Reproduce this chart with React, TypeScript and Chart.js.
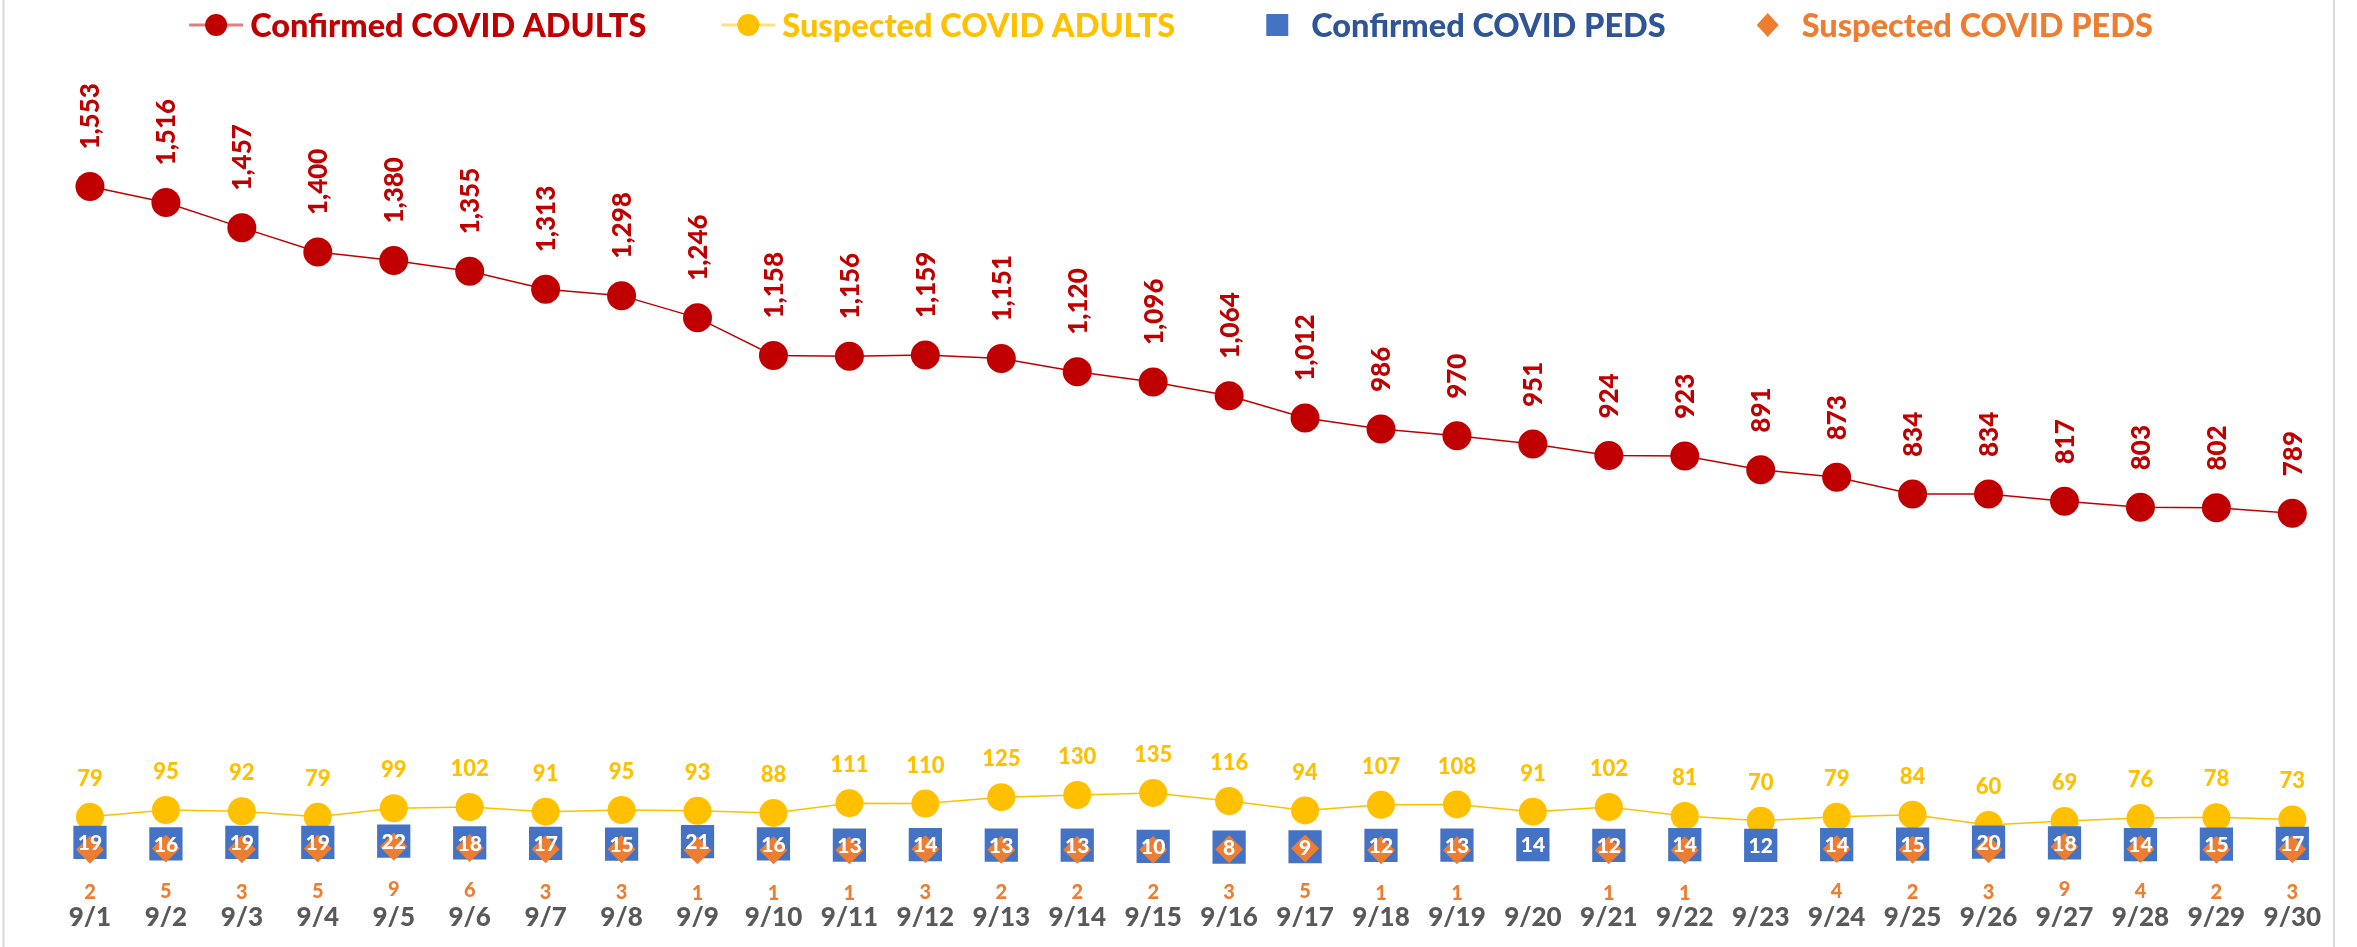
import React, { useEffect, useRef } from 'react';
import { Chart, registerables } from 'chart.js';

Chart.register(...registerables);

const categories = ['9/1','9/2','9/3','9/4','9/5','9/6','9/7','9/8','9/9','9/10','9/11','9/12','9/13','9/14','9/15','9/16','9/17','9/18','9/19','9/20','9/21','9/22','9/23','9/24','9/25','9/26','9/27','9/28','9/29','9/30'];

const confirmedAdults = [1553,1516,1457,1400,1380,1355,1313,1298,1246,1158,1156,1159,1151,1120,1096,1064,1012,986,970,951,924,923,891,873,834,834,817,803,802,789];
const suspectedAdults = [79,95,92,79,99,102,91,95,93,88,111,110,125,130,135,116,94,107,108,91,102,81,70,79,84,60,69,76,78,73];
const confirmedPeds = [19,16,19,19,22,18,17,15,21,16,13,14,13,13,10,8,9,12,13,14,12,14,12,14,15,20,18,14,15,17];
const suspectedPeds = [2,5,3,5,9,6,3,3,1,1,1,3,2,2,2,3,5,1,1,null,1,1,null,4,2,3,9,4,2,3];

const seriesNames = ['Confirmed COVID ADULTS','Suspected COVID ADULTS','Confirmed COVID PEDS','Suspected COVID PEDS'];

const FONT = 'Lato, "Liberation Sans", sans-serif';
const W = '900';

const RED = '#C00000';
const YELLOW = '#FFC000';
const BLUE = '#4472C4';
const ORANGE = '#ED7D31';

const fmt = (v: number) => v.toLocaleString('en-US');

const chromePlugin = {
  id: 'chrome',
  beforeDraw(chart: any) {
    const ctx = chart.ctx;
    ctx.save();
    ctx.fillStyle = '#FFFFFF';
    ctx.fillRect(0, 0, chart.width, chart.height);
    ctx.strokeStyle = '#D9D9D9';
    ctx.lineWidth = 2;
    ctx.beginPath();
    ctx.moveTo(3.5, 0);
    ctx.lineTo(3.5, chart.height);
    ctx.moveTo(2334, 0);
    ctx.lineTo(2334, chart.height);
    ctx.stroke();
    ctx.restore();
  },
};

const labelPlugin = {
  id: 'valueLabels',
  afterDatasetsDraw(chart: any) {
    const ctx = chart.ctx;
    ctx.save();
    chart.data.datasets.forEach((ds: any, di: number) => {
      const meta = chart.getDatasetMeta(di);
      meta.data.forEach((pt: any, i: number) => {
        const v = ds.data[i];
        if (v == null) return;
        const text = fmt(v);
        const x = pt.x;
        const y = pt.y;
        if (di === 0) {
          ctx.save();
          ctx.font = `${W} 26px ${FONT}`;
          ctx.fillStyle = RED;
          ctx.translate(x + 1, y - 37);
          ctx.rotate(-Math.PI / 2);
          ctx.textAlign = 'left';
          ctx.textBaseline = 'middle';
          ctx.fillText(text, 0, 0);
          ctx.restore();
        } else if (di === 1) {
          ctx.font = `${W} 22px ${FONT}`;
          ctx.fillStyle = YELLOW;
          ctx.textAlign = 'center';
          ctx.textBaseline = 'middle';
          ctx.fillText(text, x, y - 38);
        } else if (di === 2) {
          ctx.font = `${W} 21px ${FONT}`;
          ctx.fillStyle = '#FFFFFF';
          ctx.textAlign = 'center';
          ctx.textBaseline = 'middle';
          ctx.fillText(text, x, y + 1);
        } else if (di === 3) {
          ctx.font = `${W} 20px ${FONT}`;
          ctx.fillStyle = ORANGE;
          ctx.textAlign = 'center';
          ctx.textBaseline = 'middle';
          ctx.fillText(text, x, y + 43);
        }
      });
    });
    ctx.restore();
  },
  afterDraw(chart: any) {
    const ctx = chart.ctx;
    const xs = chart.scales.x;
    const area = chart.chartArea;
    ctx.save();
    // category labels
    ctx.font = `${W} 26px ${FONT}`;
    ctx.fillStyle = '#595959';
    ctx.textAlign = 'center';
    ctx.textBaseline = 'middle';
    categories.forEach((c, i) => {
      ctx.fillText(c, xs.getPixelForValue(i), area.bottom + 67.5);
    });

    // legend
    const textColors = [RED, YELLOW, '#2F5597', ORANGE];
    const markColors = [RED, YELLOW, BLUE, ORANGE];
    ctx.font = `${W} 32.5px ${FONT}`;
    const symW = 54;
    const gap = 7;
    const itemGap = 75;
    const widths = seriesNames.map((s) => ctx.measureText(s).width);
    const total = widths.reduce((a, w) => a + symW + gap + w, 0) + itemGap * (seriesNames.length - 1);
    let x = 1171 - total / 2;
    const ly = 25;
    seriesNames.forEach((name, i) => {
      const cx = x + symW / 2;
      if (i < 2) {
        ctx.strokeStyle = i === 0 ? 'rgba(192,0,0,0.5)' : 'rgba(255,192,0,0.5)';
        ctx.lineWidth = 3;
        ctx.beginPath();
        ctx.moveTo(x, ly);
        ctx.lineTo(x + symW, ly);
        ctx.stroke();
        ctx.fillStyle = markColors[i];
        ctx.beginPath();
        ctx.arc(cx, ly, 11, 0, Math.PI * 2);
        ctx.fill();
      } else if (i === 2) {
        ctx.fillStyle = markColors[i];
        ctx.fillRect(cx - 11, ly - 11, 22, 22);
      } else {
        ctx.fillStyle = markColors[i];
        ctx.beginPath();
        ctx.moveTo(cx, ly - 12);
        ctx.lineTo(cx + 11, ly);
        ctx.lineTo(cx, ly + 12);
        ctx.lineTo(cx - 11, ly);
        ctx.closePath();
        ctx.fill();
      }
      ctx.fillStyle = textColors[i];
      ctx.textAlign = 'left';
      ctx.textBaseline = 'middle';
      ctx.fillText(name, x + symW + gap, ly + 2);
      x += symW + gap + widths[i] + itemGap;
    });
    ctx.restore();
  },
};

export default function App() {
  const ref = useRef<HTMLCanvasElement | null>(null);

  useEffect(() => {
    if (!ref.current) return;
    const chart = new Chart(ref.current, {
      type: 'line',
      data: {
        labels: categories,
        datasets: [
          {
            label: seriesNames[0],
            data: confirmedAdults,
            borderColor: RED,
            backgroundColor: RED,
            borderWidth: 1.5,
            pointStyle: 'circle',
            pointRadius: 14.5,
            pointBorderWidth: 0,
            pointBackgroundColor: RED,
            pointBorderColor: RED,
            order: 0,
            clip: false as any,
          },
          {
            label: seriesNames[1],
            data: suspectedAdults,
            borderColor: YELLOW,
            backgroundColor: YELLOW,
            borderWidth: 1.5,
            pointStyle: 'circle',
            pointRadius: 14,
            pointBorderWidth: 0,
            pointBackgroundColor: YELLOW,
            pointBorderColor: YELLOW,
            order: 3,
            clip: false as any,
          },
          {
            label: seriesNames[2],
            data: confirmedPeds,
            showLine: false,
            borderColor: BLUE,
            backgroundColor: BLUE,
            pointStyle: 'rect',
            pointRadius: 23.5,
            pointBorderWidth: 0,
            pointBackgroundColor: BLUE,
            pointBorderColor: BLUE,
            order: 2,
            clip: false as any,
          },
          {
            label: seriesNames[3],
            data: suspectedPeds,
            showLine: false,
            borderColor: ORANGE,
            backgroundColor: ORANGE,
            pointStyle: 'rectRot',
            pointRadius: 14,
            pointBorderWidth: 0,
            pointBackgroundColor: ORANGE,
            pointBorderColor: ORANGE,
            order: 1,
            clip: false as any,
          },
        ],
      },
      options: {
        responsive: false,
        animation: false,
        devicePixelRatio: 1,
        layout: { padding: { top: 81, bottom: 96.4, left: 52, right: 26.7 } },
        plugins: {
          legend: { display: false },
          tooltip: { enabled: false },
        },
        scales: {
          x: { display: false, offset: true },
          y: { display: false, min: 0, max: 1800 },
        },
        elements: { line: { tension: 0 } },
      },
      plugins: [chromePlugin, labelPlugin],
    });
    return () => chart.destroy();
  }, []);

  return (
    <div style={{ position: 'absolute', left: 0, top: 0, width: 2357, height: 947 }}>
      <canvas ref={ref} width={2357} height={947} style={{ width: 2357, height: 947, display: 'block' }} />
    </div>
  );
}
